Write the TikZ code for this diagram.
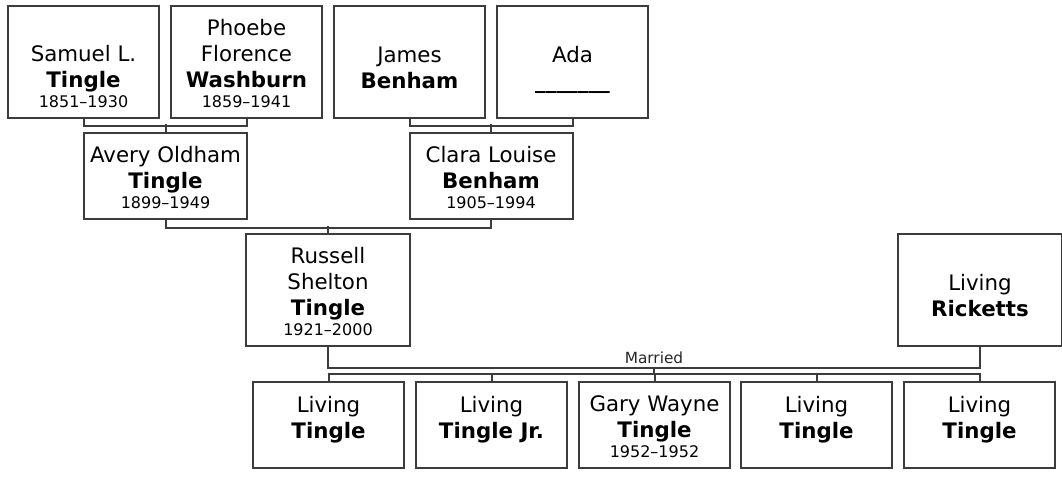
\documentclass[tikz,border=0pt]{standalone}
\usepackage{fontspec}
\setmainfont{DejaVu Sans}
\definecolor{edgegray}{HTML}{3C3C3C}
\newcommand{\namesize}{\fontsize{16}{19.5}\selectfont}
\newcommand{\yearsize}{\fontsize{12}{15}\selectfont}
% box text: width, height, name lines, years
\newcommand{\famcard}[4]{\parbox[c][#2][b]{#1}{\centering\namesize #3\par\yearsize\mbox{}#4\par\vspace{7.5pt}}}

\begin{document}
\begin{tikzpicture}[x=0.75pt, y=-0.75pt,
    person/.style={draw=edgegray, line width=1.5pt, inner sep=0pt, anchor=north west},
    link/.style={draw=edgegray, line width=1.5pt},
    wedlabel/.style={font=\fontsize{11.5}{13}\selectfont, text=black!85, inner sep=2.5pt}]

    \useasboundingbox (0,0) rectangle (1062,476);

    % Grandparents
    \node[person] (sam) at (7,5)   {\famcard{113.25pt}{84pt}{Samuel L.\\\textbf{Tingle}}{1851–1930}};
    \node[person] (pho) at (170,5) {\famcard{113.25pt}{84pt}{Phoebe\\Florence\\\textbf{Washburn}}{1859–1941}};
    \node[person] (jam) at (333,5) {\famcard{113.25pt}{84pt}{James\\\textbf{Benham}}{}};
    \node[person] (ada) at (496,5) {\famcard{113.25pt}{84pt}{Ada\\\textbf{\_\_\_\_\_\_\_}}{}};

    % Parents
    \node[person] (avery) at (83,132)    {\famcard{122.25pt}{64.5pt}{Avery Oldham\\\textbf{Tingle}}{1899–1949}};
    \node[person] (clara) at (408.5,132) {\famcard{122.25pt}{64.5pt}{Clara Louise\\\textbf{Benham}}{1905–1994}};

    % Couple
    \node[person] (russ) at (245,233) {\famcard{123pt}{84pt}{Russell\\Shelton\\\textbf{Tingle}}{1921–2000}};
    \node[person] (rick) at (897,233) {\famcard{123pt}{84pt}{Living\\\textbf{Ricketts}}{}};

    % Children
    \node[person] (k1) at (252,381) {\famcard{113.25pt}{64.5pt}{Living\\\textbf{Tingle}}{}};
    \node[person] (k2) at (415,381) {\famcard{113.25pt}{64.5pt}{Living\\\textbf{Tingle Jr.}}{}};
    \node[person] (k3) at (578,381) {\famcard{113.25pt}{64.5pt}{Gary Wayne\\\textbf{Tingle}}{1952–1952}};
    \node[person] (k4) at (740,381) {\famcard{113.25pt}{64.5pt}{Living\\\textbf{Tingle}}{}};
    \node[person] (k5) at (903,381) {\famcard{113.25pt}{64.5pt}{Living\\\textbf{Tingle}}{}};

    % Connectors
    \draw[link] (sam.south) -- ++(0,7) -| (pho.south);
    \draw[link] (avery.north) -- ++(0,-8);
    \draw[link] (jam.south) -- ++(0,7) -| (ada.south);
    \draw[link] (clara.north) -- ++(0,-8);
    \draw[link] (avery.south) -- ++(0,8) -| (clara.south);
    \draw[link] (russ.north) -- ++(0,-7);
    \draw[link] (russ.south) -- ++(0,21) -| coordinate[pos=0.25] (mid) node[wedlabel, pos=0.25, above] (wed) {Married} (rick.south);
    \draw[link] (k1.north) -- ++(0,-7) coordinate (bar) -| (k5.north);
    \draw[link] (mid) -- (mid |- bar);
    \foreach \k in {k2,k3,k4}
        \draw[link] (\k.north) -- (\k.north |- bar);

\end{tikzpicture}
\end{document}
